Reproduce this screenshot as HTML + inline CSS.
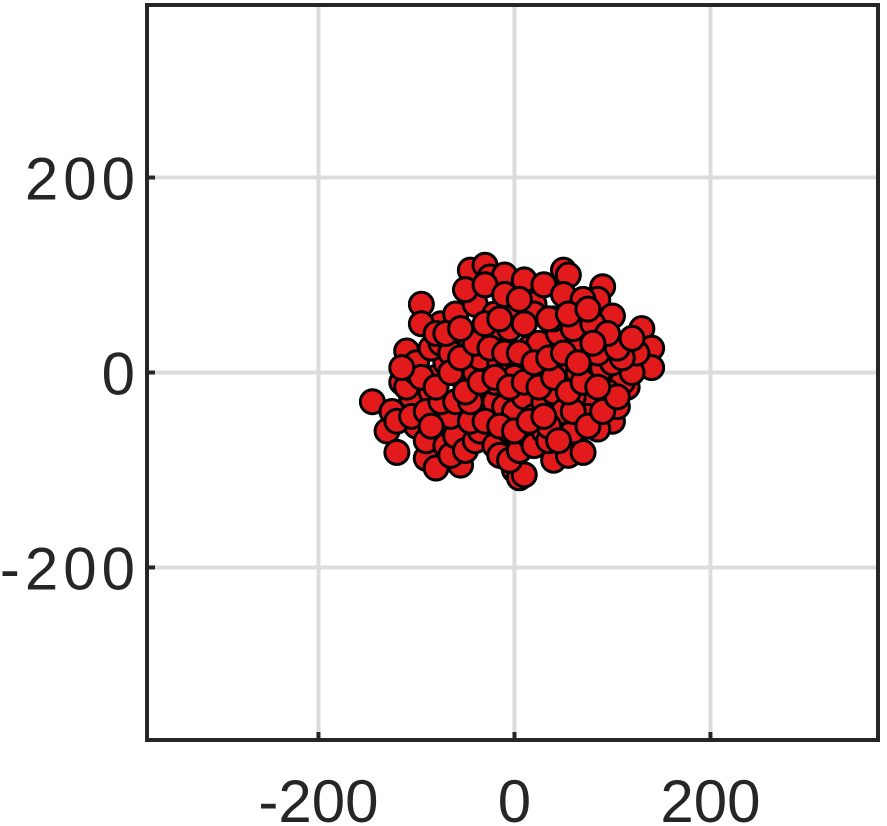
<!DOCTYPE html>
<html><head><meta charset="utf-8"><style>
html,body{margin:0;padding:0;background:#fff;}
svg{display:block;}
text{font-family:"Liberation Sans",sans-serif;font-size:60px;fill:#262626;}
.yl{letter-spacing:5px;}
</style></head><body>
<svg id="chart" width="887" height="826">
<g id="grid"></g>
<g id="pts"></g>
<g id="axes"></g>
</svg>
<script>
const xTicks=[-200,0,200];
const yTicks=[-200,0,200];
const xs=[-145,-130,-120,-110,-95,-90,-80,-55,-45,-30,-25,-10,0,5,10,40,55,70,50,55,90,85,100,130,140,140,115,110,100,85,65,-60,-75,-95,
-125,-115,-105,-100,-90,-85,-70,-65,-60,-50,-40,-35,-20,-15,-5,5,15,20,30,35,45,60,75,80,95,105,120,125,
-110,-100,-80,-70,-50,-40,-30,-20,-10,0,10,20,30,40,50,60,70,80,90,100,110,
-100,-85,-75,-65,-45,-25,-5,15,25,45,65,85,105,120,
-80,-60,-40,-20,0,20,40,60,80,95,-50,-30,-10,10,30,50,70,-35,-15,25,45,65,-65,-45,-5,35,75,-20,0,20,
-120,-105,-90,-75,-60,-45,-30,-15,0,15,30,45,60,75,90,105,-95,-80,-65,-50,-35,-20,-5,10,25,40,55,70,85,-55,-40,-25,-10,5,20,35,50,65,80,-70,-55,-30,-15,10,35,55,75,-10,5,-85,-115];
const ys=[-30,-60,-82,22,70,-88,-98,-95,105,110,98,100,-100,-108,-105,-90,-85,-82,105,100,88,75,58,45,25,5,-15,-10,-50,-58,-58,55,50,50,
-40,-10,-25,-55,-70,-20,-75,-85,-65,-80,-70,-60,-75,-85,-90,-80,-65,-75,-60,-70,-50,-60,-40,-30,-20,-35,0,20,
-15,0,-5,10,-10,0,-20,-30,-35,-40,-25,-45,-30,-20,-40,-25,-10,-5,5,10,15,
10,25,30,20,35,40,45,25,30,40,30,20,25,35,
40,60,70,60,65,70,55,45,50,40,85,90,80,95,90,80,75,15,10,5,10,0,-45,-50,-60,-55,-45,-10,-5,60,
-50,-45,-40,-30,-30,-30,-50,-55,-60,-50,-45,-70,-40,-55,-40,-25,-5,-15,0,-20,-10,-5,-15,-10,-15,-5,-20,-10,-15,15,30,25,20,20,10,15,20,10,30,40,45,50,55,50,55,60,65,80,75,-55,5];
const S=document.getElementById('chart');
const NS='http://www.w3.org/2000/svg';
const L=147,R=878,T=5,B=740,XMIN=-375,XMAX=371,YMIN=-377,YMAX=377;
function sx(v){return L+(v-XMIN)/(XMAX-XMIN)*(R-L);}
function sy(v){return B-(v-YMIN)/(YMAX-YMIN)*(B-T);}
function mk(t,a,p){const e=document.createElementNS(NS,t);for(const k in a)e.setAttribute(k,a[k]);p.appendChild(e);return e;}
const grid=document.getElementById('grid'),axes=document.getElementById('axes'),pts=document.getElementById('pts');
xTicks.forEach(v=>{const g=mk('line',{x1:sx(v),x2:sx(v),y1:T,y2:B,stroke:'#dcdcdc','stroke-width':4},grid);

const t=mk('line',{x1:sx(v),x2:sx(v),y1:B,y2:B-8,stroke:'#262626','stroke-width':4},axes);

const tx=mk('text',{x:sx(v),y:822,'text-anchor':'middle'},axes);tx.textContent=v;
});
yTicks.forEach(v=>{const g=mk('line',{x1:L,x2:R,y1:sy(v),y2:sy(v),stroke:'#dcdcdc','stroke-width':4},grid);

const t=mk('line',{x1:L,x2:L+8,y1:sy(v),y2:sy(v),stroke:'#262626','stroke-width':4},axes);

const tx=mk('text',{x:140,y:sy(v)+22,'text-anchor':'end','class':'yl'},axes);tx.textContent=v;
});
const box=mk('rect',{x:L,y:T,width:R-L,height:B-T,fill:'none',stroke:'#262626','stroke-width':4},axes);

for(let i=0;i<xs.length;i++){const c=mk('circle',{cx:sx(xs[i]),cy:sy(ys[i]),r:12,fill:'#e31a1c',stroke:'#000','stroke-width':3},pts);
}
</script>
</body></html>
